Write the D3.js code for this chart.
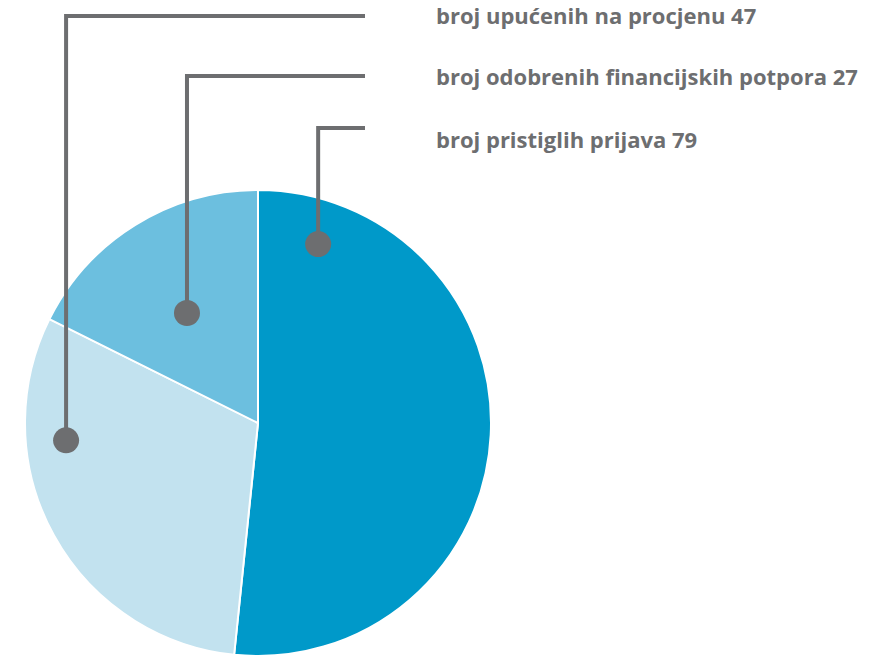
<!DOCTYPE html>
<html>
<head>
<meta charset="utf-8">
<script src="https://cdn.jsdelivr.net/npm/d3@7"></script>
<style>
body{margin:0;background:#fff;}
svg{display:block;}
</style>
</head>
<body>
<svg id="canvas" width="874" height="658"></svg>
<script>
// data
labels=["broj pristiglih prijava","broj upućenih na procjenu","broj odobrenih financijskih potpora"];
values=[79,47,27];
colors=["#0099c9","#c2e2ef","#6cbfdf"];

CX=258; CY=423; R=233;
GREY="#6d6e70";

window.onload=function(){
    svg=d3.select("#canvas");
    var pie=d3.pie().sort(null).value(function(d){return d});
    var arc=d3.arc().innerRadius(0).outerRadius(R);
    var arcs=pie(values);

    var g=svg.append("g").attr("transform","translate("+CX+","+CY+")");
    g.selectAll("path.slice")
        .data(arcs)
        .enter()
        .append("path")
        .attr("class","slice")
        .attr("d",arc)
        .attr("fill",function(d,i){return colors[i]})
        .attr("stroke","#fff")
        .attr("stroke-width",2);

    // dot positions inside slices (radius fraction, angle fraction of slice)
    var dotPos=[[0.81,0.1],[0.827,0.714],[0.562,0.483]];
    var lineY=[128,16,76];
    var textY=[140,16,77];
    var LINE_END=365, TEXT_X=436;

    arcs.forEach(function(a,i){
        var ang=a.startAngle+(a.endAngle-a.startAngle)*dotPos[i][1];
        var rr=R*dotPos[i][0];
        var x=CX+rr*Math.sin(ang);
        var y=CY-rr*Math.cos(ang);
        svg.append("path")
            .attr("d","M"+x+","+y+"V"+lineY[i]+"H"+LINE_END)
            .attr("fill","none")
            .attr("stroke",GREY)
            .attr("stroke-width",4);
        svg.append("circle")
            .attr("cx",x).attr("cy",y).attr("r",13)
            .attr("fill",GREY);
        svg.append("text")
            .attr("x",TEXT_X).attr("y",textY[i])
            .attr("dy","0.35em")
            .attr("font-family","'Open Sans', sans-serif")
            .attr("font-weight","bold")
            .attr("font-size","22px")
            .attr("fill",GREY)
            .text(labels[i]+" "+values[i]);
    });
}
</script>
</body>
</html>
